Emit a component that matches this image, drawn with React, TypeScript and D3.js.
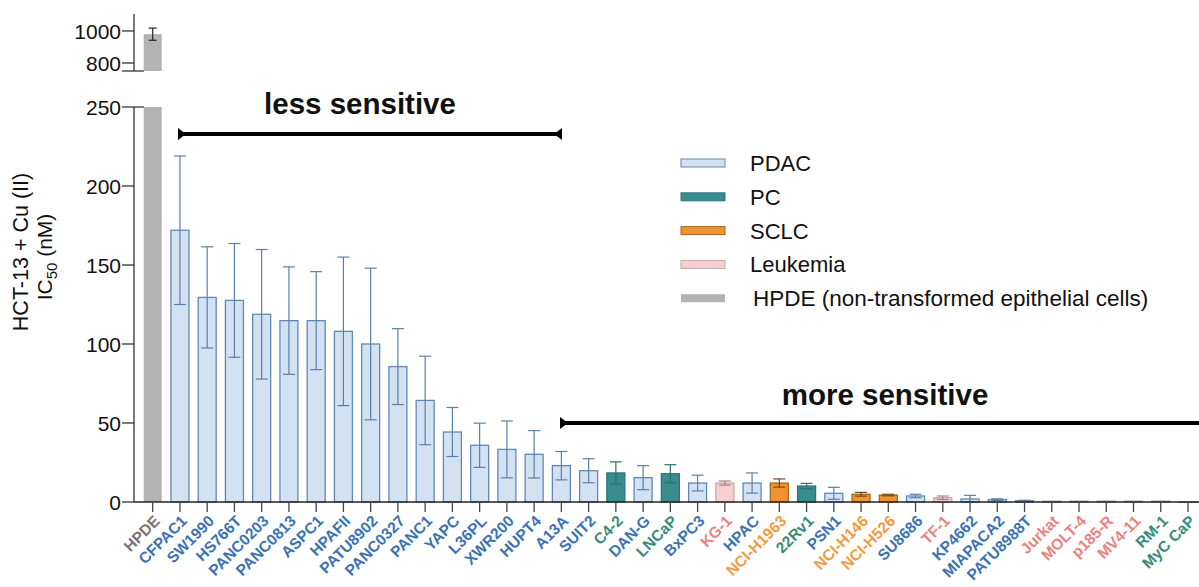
import React from "react";
import * as d3 from "d3";

const cellLines = ["HPDE","CFPAC1","SW1990","HS766T","PANC0203","PANC0813","ASPC1","HPAFII","PATU8902","PANC0327","PANC1","YAPC","L36PL","XWR200","HUPT4","A13A","SUIT2","C4-2","DAN-G","LNCaP","BxPC3","KG-1","HPAC","NCI-H1963","22Rv1","PSN1","NCI-H146","NCI-H526","SU8686","TF-1","KP4662","MIAPACA2","PATU8988T","Jurkat","MOLT-4","p185-R","MV4-11","RM-1","MyC CaP"];
const ic50 = [980,172,129.5,127.6,118.8,114.8,114.8,108,100,85.7,64.3,44.3,35.9,33.3,30.2,23,19.8,18.4,15.4,17.9,12,12,12,12,10.1,5.5,4.9,4.4,3.8,2.7,1.9,1.5,0.8,0.5,0.5,0.5,0.5,0.5,0.2];
const sem = [38,47,32,36,41,34,31,47,48,24,28,15.5,14,18,15,9,7.6,7,7.6,5.7,5,1.3,6.4,2.6,1.7,3.8,1.2,0.5,1.1,1.1,2.3,0.5,0.3,0,0,0,0,0,0];
const tumorType = ["HPDE","PDAC","PDAC","PDAC","PDAC","PDAC","PDAC","PDAC","PDAC","PDAC","PDAC","PDAC","PDAC","PDAC","PDAC","PDAC","PDAC","PC","PDAC","PC","PDAC","Leukemia","PDAC","SCLC","PC","PDAC","SCLC","SCLC","PDAC","Leukemia","PDAC","PDAC","PDAC","Leukemia","Leukemia","Leukemia","Leukemia","PC","PC"];
const legendKeys = ["PDAC","PC","SCLC","Leukemia","HPDE"];
const legendLabels = ["PDAC","PC","SCLC","Leukemia","HPDE (non-transformed epithelial cells)"];
const lowerTicks = [0,50,100,150,200,250];
const upperTicks = [800,1000];

const fills: Record<string,string> = { PDAC:"#d3e2f3", PC:"#388c90", SCLC:"#f0922f", Leukemia:"#f6cfcf", HPDE:"#b3b3b3" };
const strokes: Record<string,string> = { PDAC:"#6188b5", PC:"#2f7579", SCLC:"#a8661f", Leukemia:"#c8a8a8", HPDE:"#b3b3b3" };
const errColors: Record<string,string> = { PDAC:"#5b7fa8", PC:"#2f6f73", SCLC:"#7a4a18", Leukemia:"#a08888", HPDE:"#222" };
const labelColors: Record<string,string> = { PDAC:"#3b72b3", PC:"#3a8a78", SCLC:"#f19a45", Leukemia:"#e98281", HPDE:"#7a7270" };

const FONT = "'Liberation Sans', Arial, sans-serif";

export default function App() {
  const W = 1199, H = 587;
  const axisX = 134;
  const x = d3.scalePoint<string>().domain(cellLines).range([152.7, 1188]);
  const yLow = d3.scaleLinear().domain([0, 250]).range([502, 107]);
  const yUp = d3.scaleLinear().domain([750, 1106]).range([71, 14]);
  const bw = 18;
  const cap = 6;

  return (
    <svg width={W} height={H} style={{ position: "absolute", left: 0, top: 0, background: "#fff" }} fontFamily={FONT}>
      {/* Upper broken segment */}
      <line x1={axisX} x2={axisX} y1={yUp(1106)} y2={yUp(750)} stroke="#333" strokeWidth={1.3} />
      <line x1={axisX - 12} x2={axisX + 10} y1={yUp(750)} y2={yUp(750)} stroke="#333" strokeWidth={1.3} />
      {upperTicks.map(t => (
        <g key={t}>
          <line x1={axisX - 12} x2={axisX} y1={yUp(t)} y2={yUp(t)} stroke="#333" strokeWidth={1.3} />
          <text x={axisX - 13} y={yUp(t)} dy="0.36em" textAnchor="end" fontSize={21} fill="#111">{t}</text>
        </g>
      ))}
      {/* HPDE upper */}
      <rect x={(x("HPDE") as number) - bw / 2} y={yUp(ic50[0])} width={bw} height={yUp(750) - yUp(ic50[0])} fill={fills.HPDE} />
      <line x1={x("HPDE")} x2={x("HPDE")} y1={yUp(ic50[0] + sem[0])} y2={yUp(ic50[0] - sem[0])} stroke="#222" strokeWidth={1.2} />
      <line x1={(x("HPDE") as number) - 4} x2={(x("HPDE") as number) + 4} y1={yUp(ic50[0] + sem[0])} y2={yUp(ic50[0] + sem[0])} stroke="#222" strokeWidth={1.2} />
      <line x1={(x("HPDE") as number) - 4} x2={(x("HPDE") as number) + 4} y1={yUp(ic50[0] - sem[0])} y2={yUp(ic50[0] - sem[0])} stroke="#222" strokeWidth={1.2} />

      {/* Lower segment axis */}
      <line x1={axisX} x2={axisX} y1={yLow(250)} y2={yLow(0)} stroke="#333" strokeWidth={1.3} />
      <line x1={axisX} x2={axisX + 10} y1={yLow(250)} y2={yLow(250)} stroke="#333" strokeWidth={1.3} />
      {lowerTicks.map(t => (
        <g key={t}>
          <line x1={axisX - 12} x2={axisX} y1={yLow(t)} y2={yLow(t)} stroke="#333" strokeWidth={1.3} />
          <text x={axisX - 13} y={yLow(t)} dy="0.36em" textAnchor="end" fontSize={21} fill="#111">{t}</text>
        </g>
      ))}

      {/* Bars */}
      {cellLines.map((c, i) => {
        const cx = x(c) as number;
        const g = tumorType[i];
        const v = Math.min(ic50[i], 250);
        const top = yLow(v);
        const isH = g === "HPDE";
        const e = sem[i];
        const tiny = ic50[i] < 0.7;
        return (
          <g key={c}>
            <rect x={cx - bw / 2} y={top} width={bw} height={Math.max(yLow(0) - top, 0.5)} fill={fills[g]} stroke={isH ? "none" : (tiny ? "#999" : strokes[g])} strokeWidth={isH ? 0 : 1.3} />
            {!isH && e > 0 && (
              <g stroke={errColors[g]} strokeWidth={1.2}>
                <line x1={cx} x2={cx} y1={yLow(ic50[i] + e)} y2={yLow(Math.max(ic50[i] - e, 0))} />
                <line x1={cx - cap} x2={cx + cap} y1={yLow(ic50[i] + e)} y2={yLow(ic50[i] + e)} />
                <line x1={cx - cap} x2={cx + cap} y1={yLow(Math.max(ic50[i] - e, 0))} y2={yLow(Math.max(ic50[i] - e, 0))} />
              </g>
            )}
          </g>
        );
      })}

      {/* X axis */}
      <line x1={axisX} x2={W} y1={yLow(0)} y2={yLow(0)} stroke="#222" strokeWidth={1.5} />
      {cellLines.map((c, i) => {
        const cx = x(c) as number;
        return (
          <g key={"t" + c}>
            <line x1={cx} x2={cx} y1={yLow(0)} y2={yLow(0) + 10} stroke="#444" strokeWidth={1.3} />
            <text transform={`translate(${cx + 8},${yLow(0) + 20}) rotate(-45)`} textAnchor="end" fontSize={15.5} fontWeight="bold" fill={labelColors[tumorType[i]]}>{c}</text>
          </g>
        );
      })}

      {/* Y axis title */}
      <text transform="translate(28,252) rotate(-90)" textAnchor="middle" fontSize={21.5} fill="#111">HCT-13 + Cu (II)</text>
      <text transform="translate(52,257) rotate(-90)" textAnchor="middle" fontSize={21} fill="#111">
        IC<tspan fontSize={15} dy={5}>50</tspan><tspan dy={-5}> (nM)</tspan>
      </text>

      {/* Sensitivity annotations */}
      <text x={360} y={114} textAnchor="middle" fontSize={29.5} fontWeight="bold" fill="#111">less sensitive</text>
      <line x1={178} x2={562} y1={134} y2={134} stroke="#000" strokeWidth={4} />
      <path d="M178,128 L178,140 L186,134 Z" fill="#000" />
      <path d="M562,128 L562,140 L554,134 Z" fill="#000" />

      <text x={885} y={405} textAnchor="middle" fontSize={29.5} fontWeight="bold" fill="#111">more sensitive</text>
      <line x1={560} x2={W} y1={423} y2={423} stroke="#000" strokeWidth={4} />
      <path d="M560,417 L560,429 L568,423 Z" fill="#000" />

      {/* Legend */}
      {legendKeys.map((k, i) => {
        const ly = 163 + i * 33.8;
        return (
          <g key={k}>
            <rect x={681} y={ly - 4} width={44} height={8} fill={fills[k]} stroke={k === "HPDE" ? "none" : strokes[k]} strokeWidth={1} />
            <text x={k === "HPDE" ? 753 : 750} y={ly} dy="0.36em" fontSize={k === "HPDE" ? 22.5 : 22} fill="#111">{legendLabels[i]}</text>
          </g>
        );
      })}
    </svg>
  );
}
